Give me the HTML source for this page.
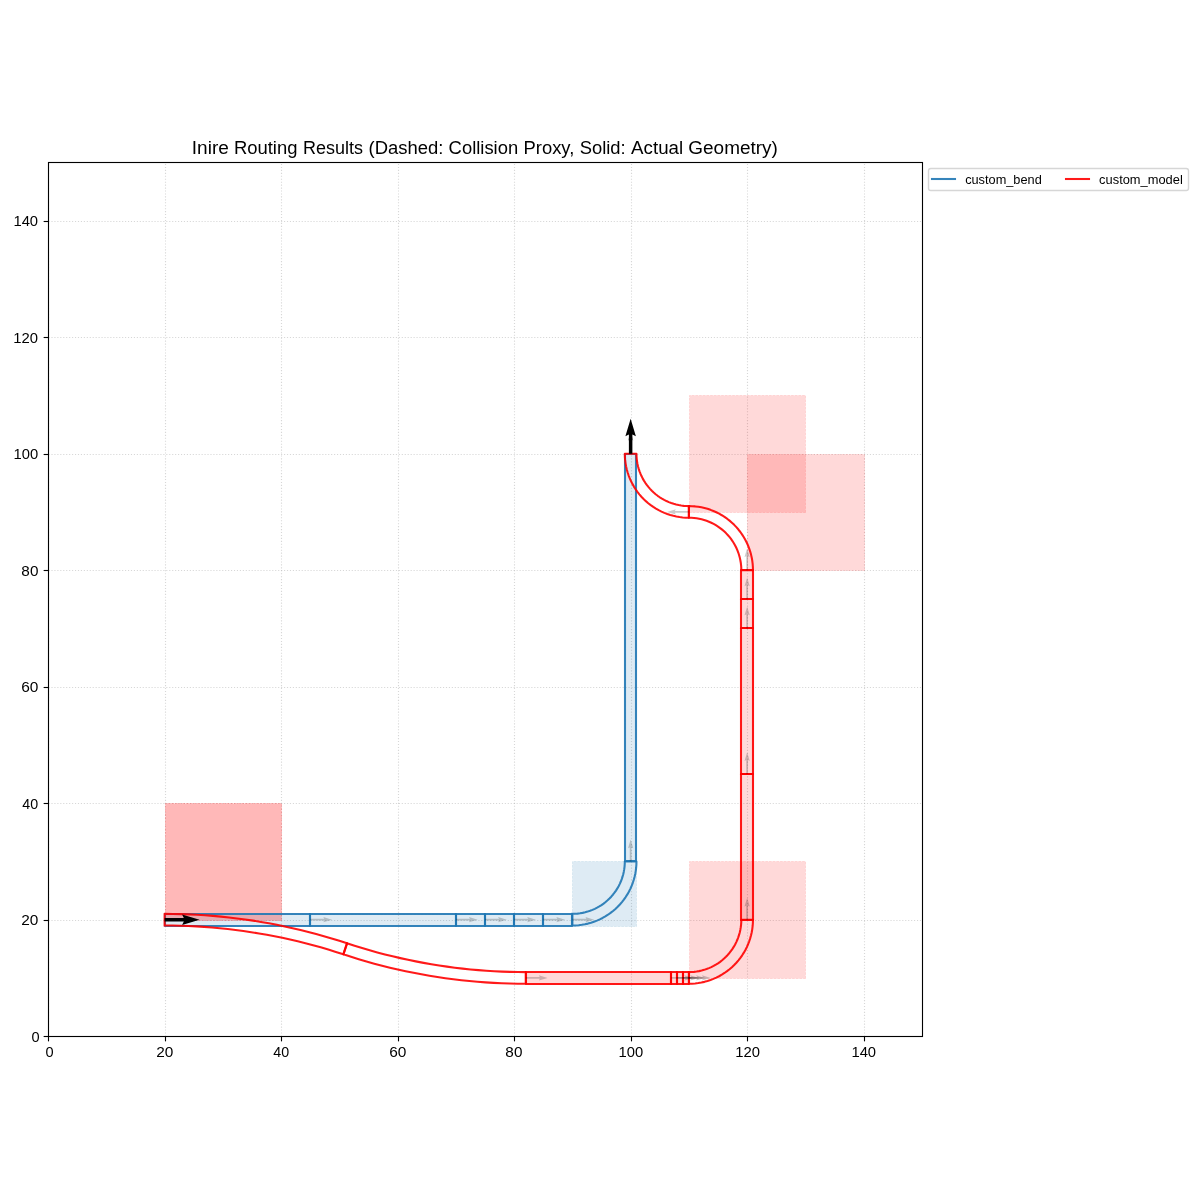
<!DOCTYPE html>
<html lang="en"><head><meta charset="utf-8"><title>Inire Routing Results</title>
<style>
html,body{margin:0;padding:0;background:#ffffff;}
body{width:1200px;height:1200px;overflow:hidden;}
svg{display:block;}
text{font-family:"Liberation Sans",sans-serif;fill:#000000;}
</style></head>
<body>
<svg width="1200" height="1200" viewBox="0 0 1200 1200">
<rect x="0" y="0" width="1200" height="1200" fill="#ffffff"/>
<defs><clipPath id="axclip"><rect x="48.1" y="162.4" width="873.81" height="873.81"/></clipPath></defs>
<g id="grid" clip-path="url(#axclip)" stroke="#b0b0b0" stroke-opacity="0.5" stroke-width="1.111" stroke-dasharray="1.111 1.833" fill="none">
<line x1="48.5" y1="1036.5" x2="48.5" y2="162.5"/>
<line x1="165.5" y1="1036.5" x2="165.5" y2="162.5"/>
<line x1="281.5" y1="1036.5" x2="281.5" y2="162.5"/>
<line x1="398.5" y1="1036.5" x2="398.5" y2="162.5"/>
<line x1="514.5" y1="1036.5" x2="514.5" y2="162.5"/>
<line x1="631.5" y1="1036.5" x2="631.5" y2="162.5"/>
<line x1="747.5" y1="1036.5" x2="747.5" y2="162.5"/>
<line x1="864.5" y1="1036.5" x2="864.5" y2="162.5"/>
<line x1="48.5" y1="1036.5" x2="922.5" y2="1036.5"/>
<line x1="48.5" y1="920.5" x2="922.5" y2="920.5"/>
<line x1="48.5" y1="803.5" x2="922.5" y2="803.5"/>
<line x1="48.5" y1="687.5" x2="922.5" y2="687.5"/>
<line x1="48.5" y1="570.5" x2="922.5" y2="570.5"/>
<line x1="48.5" y1="454.5" x2="922.5" y2="454.5"/>
<line x1="48.5" y1="337.5" x2="922.5" y2="337.5"/>
<line x1="48.5" y1="221.5" x2="922.5" y2="221.5"/>
</g>
<g id="ticks" stroke="#000000" stroke-width="1.111" fill="none">
<line x1="48.5" y1="1036.5" x2="48.5" y2="1041.36"/>
<line x1="165.5" y1="1036.5" x2="165.5" y2="1041.36"/>
<line x1="281.5" y1="1036.5" x2="281.5" y2="1041.36"/>
<line x1="398.5" y1="1036.5" x2="398.5" y2="1041.36"/>
<line x1="514.5" y1="1036.5" x2="514.5" y2="1041.36"/>
<line x1="631.5" y1="1036.5" x2="631.5" y2="1041.36"/>
<line x1="747.5" y1="1036.5" x2="747.5" y2="1041.36"/>
<line x1="864.5" y1="1036.5" x2="864.5" y2="1041.36"/>
<line x1="48.5" y1="1036.5" x2="43.64" y2="1036.5"/>
<line x1="48.5" y1="920.5" x2="43.64" y2="920.5"/>
<line x1="48.5" y1="803.5" x2="43.64" y2="803.5"/>
<line x1="48.5" y1="687.5" x2="43.64" y2="687.5"/>
<line x1="48.5" y1="570.5" x2="43.64" y2="570.5"/>
<line x1="48.5" y1="454.5" x2="43.64" y2="454.5"/>
<line x1="48.5" y1="337.5" x2="43.64" y2="337.5"/>
<line x1="48.5" y1="221.5" x2="43.64" y2="221.5"/>
</g>
<g id="proxy" clip-path="url(#axclip)" fill-opacity="0.15" stroke-opacity="0.15" stroke-width="0.694" stroke-dasharray="2.569 1.111" stroke-linejoin="miter">
<polygon fill="#1f77b4" stroke="#1f77b4" points="165.5,914.5 310.5,914.5 310.5,926.5 165.5,926.5"/>
<polygon fill="#1f77b4" stroke="#1f77b4" points="310.5,914.5 456.5,914.5 456.5,926.5 310.5,926.5"/>
<polygon fill="#1f77b4" stroke="#1f77b4" points="456.5,914.5 485.5,914.5 485.5,926.5 456.5,926.5"/>
<polygon fill="#1f77b4" stroke="#1f77b4" points="485.5,914.5 514.5,914.5 514.5,926.5 485.5,926.5"/>
<polygon fill="#1f77b4" stroke="#1f77b4" points="514.5,914.5 543.5,914.5 543.5,926.5 514.5,926.5"/>
<polygon fill="#1f77b4" stroke="#1f77b4" points="543.5,914.5 572.5,914.5 572.5,926.5 543.5,926.5"/>
<polygon fill="#1f77b4" stroke="#1f77b4" points="636.5,926.5 636.5,861.5 572.5,861.5 572.5,926.5"/>
<polygon fill="#1f77b4" stroke="#1f77b4" points="625.5,861.5 625.5,454.5 636.5,454.5 636.5,861.5"/>
<polygon fill="#ff0000" stroke="#ff0000" points="281.5,920.5 281.5,803.5 165.5,803.5 165.5,920.5"/>
<polygon fill="#ff0000" stroke="#ff0000" points="281.5,920.5 281.5,803.5 165.5,803.5 165.5,920.5"/>
<polygon fill="#ff0000" stroke="#ff0000" points="526.5,972.5 671.5,972.5 671.5,984.5 526.5,984.5"/>
<polygon fill="#ff0000" stroke="#ff0000" points="671.5,972.5 677.5,972.5 677.5,984.5 671.5,984.5"/>
<polygon fill="#ff0000" stroke="#ff0000" points="677.5,972.5 683.5,972.5 683.5,984.5 677.5,984.5"/>
<polygon fill="#ff0000" stroke="#ff0000" points="683.5,972.5 689.5,972.5 689.5,984.5 683.5,984.5"/>
<polygon fill="#ff0000" stroke="#ff0000" points="805.5,978.5 805.5,861.5 689.5,861.5 689.5,978.5"/>
<polygon fill="#ff0000" stroke="#ff0000" points="741.5,920.5 741.5,774.5 753.5,774.5 753.5,920.5"/>
<polygon fill="#ff0000" stroke="#ff0000" points="741.5,774.5 741.5,628.5 753.5,628.5 753.5,774.5"/>
<polygon fill="#ff0000" stroke="#ff0000" points="741.5,628.5 741.5,599.5 753.5,599.5 753.5,628.5"/>
<polygon fill="#ff0000" stroke="#ff0000" points="741.5,599.5 741.5,570.5 753.5,570.5 753.5,599.5"/>
<polygon fill="#ff0000" stroke="#ff0000" points="864.5,570.5 864.5,454.5 747.5,454.5 747.5,570.5"/>
<polygon fill="#ff0000" stroke="#ff0000" points="805.5,512.5 805.5,395.5 689.5,395.5 689.5,512.5"/>
</g>
<rect id="spines" x="48.5" y="162.5" width="874" height="874" fill="none" stroke="#000000" stroke-width="1.111" stroke-linejoin="miter"/>
<g id="geom" clip-path="url(#axclip)" fill="none" stroke-opacity="0.9" stroke-width="2.083" stroke-linejoin="round" stroke-linecap="square">
<polyline stroke="#1f77b4" points="165,914 310,914 310,926 165,926 165,914"/>
<polyline stroke="#1f77b4" points="310,914 456,914 456,926 310,926 310,914"/>
<polyline stroke="#1f77b4" points="456,914 485,914 485,926 456,926 456,914"/>
<polyline stroke="#1f77b4" points="485,914 514,914 514,926 485,926 485,914"/>
<polyline stroke="#1f77b4" points="514,914 543,914 543,926 514,926 514,914"/>
<polyline stroke="#1f77b4" points="543,914 572,914 572,926 543,926 543,914"/>
<polyline stroke="#1f77b4" points="572.38,913.88 574.96,913.81 577.52,913.62 580.08,913.31 582.61,912.87 585.12,912.31 587.6,911.62 590.05,910.81 592.45,909.89 594.8,908.84 597.1,907.69 599.34,906.42 601.51,905.04 603.61,903.56 605.64,901.98 607.59,900.3 609.46,898.52 611.23,896.66 612.91,894.71 614.49,892.68 615.98,890.58 617.35,888.4 618.62,886.16 619.78,883.86 620.82,881.51 621.75,879.11 622.55,876.67 623.24,874.19 623.8,871.68 624.24,869.14 624.56,866.59 624.75,864.02 624.81,861.45 636.46,861.45 636.39,864.59 636.15,867.73 635.77,870.85 635.23,873.95 634.54,877.02 633.7,880.05 632.72,883.04 631.58,885.97 630.31,888.85 628.9,891.66 627.35,894.39 625.66,897.05 623.85,899.62 621.92,902.1 619.86,904.48 617.69,906.76 615.42,908.93 613.03,910.98 610.56,912.92 607.98,914.73 605.33,916.41 602.59,917.96 599.78,919.38 596.91,920.65 593.97,921.78 590.98,922.77 587.95,923.61 584.88,924.3 581.79,924.83 578.66,925.22 575.53,925.45 572.38,925.53 572.38,913.88"/>
<polyline stroke="#1f77b4" points="625,861 625,454 636,454 636,861 625,861"/>
<polyline stroke="#ff0000" points="164.61,925.53 172.51,925.58 180.42,925.75 188.32,926.02 196.21,926.41 204.1,926.9 211.99,927.51 219.86,928.22 227.72,929.04 235.57,929.97 243.41,931.02 251.23,932.17 259.04,933.43 266.83,934.79 274.59,936.27 282.34,937.85 290.06,939.54 297.76,941.34 305.43,943.25 313.08,945.26 320.7,947.37 328.28,949.6 335.84,951.93 343.36,954.36 347.02,943.3 339.35,940.82 331.64,938.44 323.9,936.17 316.12,934.01 308.32,931.96 300.49,930.01 292.63,928.18 284.75,926.45 276.85,924.84 268.92,923.33 260.97,921.94 253.01,920.65 245.03,919.48 237.03,918.41 229.02,917.46 220.99,916.62 212.96,915.9 204.91,915.28 196.86,914.77 188.8,914.38 180.74,914.1 172.67,913.93 164.61,913.88 164.61,925.53"/>
<polyline stroke="#ff0000" points="347.02,943.3 354.55,945.73 362.1,948.06 369.69,950.28 377.31,952.4 384.95,954.41 392.62,956.32 400.32,958.12 408.05,959.81 415.79,961.39 423.56,962.87 431.35,964.23 439.15,965.49 446.97,966.64 454.81,967.68 462.66,968.62 470.52,969.44 478.4,970.15 486.28,970.76 494.17,971.25 502.07,971.64 509.97,971.91 517.87,972.08 525.78,972.13 525.78,983.78 517.71,983.73 509.65,983.56 501.58,983.28 493.52,982.88 485.47,982.38 477.43,981.76 469.39,981.04 461.37,980.2 453.36,979.24 445.36,978.18 437.38,977.01 429.41,975.72 421.46,974.33 413.54,972.82 405.63,971.21 397.75,969.48 389.9,967.65 382.07,965.7 374.26,963.65 366.49,961.49 358.75,959.22 351.04,956.84 343.36,954.36 347.02,943.3"/>
<polyline stroke="#ff0000" points="526,972 671,972 671,984 526,984 526,972"/>
<polyline stroke="#ff0000" points="671,972 677,972 677,984 671,984 671,972"/>
<polyline stroke="#ff0000" points="677,972 683,972 683,984 677,984 677,972"/>
<polyline stroke="#ff0000" points="683,972 689,972 689,984 683,984 683,972"/>
<polyline stroke="#ff0000" points="688.89,972.13 691.46,972.07 694.03,971.88 696.58,971.56 699.12,971.12 701.63,970.56 704.11,969.87 706.55,969.07 708.95,968.14 711.31,967.1 713.61,965.94 715.84,964.67 718.02,963.3 720.12,961.81 722.15,960.23 724.1,958.55 725.96,956.78 727.74,954.91 729.42,952.96 731,950.93 732.48,948.83 733.86,946.66 735.13,944.42 736.29,942.12 737.33,939.77 738.25,937.37 739.06,934.92 739.75,932.44 740.31,929.93 740.75,927.4 741.07,924.84 741.26,922.28 741.32,919.7 752.97,919.7 752.89,922.85 752.66,925.98 752.28,929.1 751.74,932.2 751.05,935.27 750.21,938.3 749.22,941.29 748.09,944.22 746.82,947.1 745.4,949.91 743.85,952.65 742.17,955.3 740.36,957.87 738.43,960.35 736.37,962.74 734.2,965.01 731.92,967.18 729.54,969.24 727.06,971.17 724.49,972.98 721.83,974.67 719.1,976.22 716.29,977.63 713.41,978.9 710.48,980.04 707.49,981.02 704.46,981.86 701.39,982.55 698.29,983.09 695.17,983.47 692.04,983.7 688.89,983.78 688.89,972.13"/>
<polyline stroke="#ff0000" points="741,920 741,774 753,774 753,920 741,920"/>
<polyline stroke="#ff0000" points="741,774 741,628 753,628 753,774 741,774"/>
<polyline stroke="#ff0000" points="741,628 741,599 753,599 753,628 741,628"/>
<polyline stroke="#ff0000" points="741,599 741,570 753,570 753,599 741,599"/>
<polyline stroke="#ff0000" points="741.32,570.18 741.26,567.61 741.07,565.04 740.75,562.49 740.31,559.95 739.75,557.44 739.06,554.96 738.25,552.52 737.33,550.12 736.29,547.76 735.13,545.46 733.86,543.22 732.48,541.05 731,538.95 729.42,536.92 727.74,534.97 725.96,533.11 724.1,531.33 722.15,529.65 720.12,528.07 718.02,526.59 715.84,525.21 713.61,523.94 711.31,522.78 708.95,521.74 706.55,520.81 704.11,520.01 701.63,519.32 699.12,518.76 696.58,518.32 694.03,518 691.46,517.81 688.89,517.75 688.89,506.1 692.04,506.18 695.17,506.41 698.29,506.79 701.39,507.33 704.46,508.02 707.49,508.86 710.48,509.85 713.41,510.98 716.29,512.25 719.1,513.67 721.83,515.22 724.49,516.9 727.06,518.71 729.54,520.64 731.92,522.7 734.2,524.87 736.37,527.15 738.43,529.53 740.36,532.01 742.17,534.58 743.85,537.24 745.4,539.97 746.82,542.78 748.09,545.66 749.22,548.59 750.21,551.58 751.05,554.61 751.74,557.68 752.28,560.78 752.66,563.9 752.89,567.03 752.97,570.18 741.32,570.18"/>
<polyline stroke="#ff0000" points="688.89,506.1 686.32,506.04 683.75,505.85 681.2,505.53 678.66,505.09 676.15,504.53 673.67,503.84 671.23,503.03 668.83,502.11 666.47,501.07 664.18,499.91 661.94,498.64 659.76,497.26 657.66,495.78 655.63,494.2 653.68,492.52 651.82,490.74 650.04,488.88 648.36,486.93 646.78,484.9 645.3,482.8 643.92,480.62 642.65,478.39 641.5,476.09 640.45,473.73 639.53,471.33 638.72,468.89 638.03,466.41 637.47,463.9 637.03,461.36 636.71,458.81 636.53,456.24 636.46,453.67 624.81,453.67 624.89,456.81 625.12,459.95 625.51,463.07 626.04,466.17 626.73,469.24 627.57,472.27 628.56,475.26 629.69,478.19 630.96,481.07 632.38,483.88 633.93,486.61 635.61,489.27 637.42,491.84 639.36,494.32 641.41,496.7 643.58,498.98 645.86,501.15 648.24,503.2 650.72,505.14 653.29,506.95 655.95,508.63 658.68,510.18 661.49,511.6 664.37,512.87 667.3,514 670.29,514.99 673.32,515.83 676.39,516.52 679.49,517.06 682.61,517.44 685.75,517.67 688.89,517.75 688.89,506.1"/>
</g>
<g id="ports" clip-path="url(#axclip)" fill="#000000" fill-opacity="0.2" stroke="none">
<polygon points="310.24,918.83 324.22,918.83 323.35,917.08 332.09,919.7 323.35,922.32 324.22,920.58 310.24,920.58"/>
<polygon points="455.88,918.83 469.86,918.83 468.98,917.08 477.72,919.7 468.98,922.32 469.86,920.58 455.88,920.58"/>
<polygon points="485,918.83 498.98,918.83 498.11,917.08 506.85,919.7 498.11,922.32 498.98,920.58 485,920.58"/>
<polygon points="514.13,918.83 528.11,918.83 527.24,917.08 535.97,919.7 527.24,922.32 528.11,920.58 514.13,920.58"/>
<polygon points="543.26,918.83 557.24,918.83 556.36,917.08 565.1,919.7 556.36,922.32 557.24,920.58 543.26,920.58"/>
<polygon points="572.38,918.83 586.36,918.83 585.49,917.08 594.23,919.7 585.49,922.32 586.36,920.58 572.38,920.58"/>
<polygon points="629.76,861.45 629.76,847.47 628.02,848.34 630.64,839.6 633.26,848.34 631.51,847.47 631.51,861.45"/>
<polygon points="629.76,453.67 629.76,439.69 628.02,440.56 630.64,431.83 633.26,440.56 631.51,439.69 631.51,453.67"/>
<polygon points="525.78,977.08 539.76,977.08 538.89,975.34 547.63,977.96 538.89,980.58 539.76,978.83 525.78,978.83"/>
<polygon points="671.41,977.08 685.4,977.08 684.52,975.34 693.26,977.96 684.52,980.58 685.4,978.83 671.41,978.83"/>
<polygon points="677.24,977.08 691.22,977.08 690.35,975.34 699.09,977.96 690.35,980.58 691.22,978.83 677.24,978.83"/>
<polygon points="683.07,977.08 697.05,977.08 696.17,975.34 704.91,977.96 696.17,980.58 697.05,978.83 683.07,978.83"/>
<polygon points="688.89,977.08 702.87,977.08 702,975.34 710.74,977.96 702,980.58 702.87,978.83 688.89,978.83"/>
<polygon points="746.27,919.7 746.27,905.72 744.52,906.6 747.15,897.86 749.77,906.6 748.02,905.72 748.02,919.7"/>
<polygon points="746.27,774.07 746.27,760.09 744.52,760.96 747.15,752.22 749.77,760.96 748.02,760.09 748.02,774.07"/>
<polygon points="746.27,628.43 746.27,614.45 744.52,615.33 747.15,606.59 749.77,615.33 748.02,614.45 748.02,628.43"/>
<polygon points="746.27,599.31 746.27,585.32 744.52,586.2 747.15,577.46 749.77,586.2 748.02,585.32 748.02,599.31"/>
<polygon points="746.27,570.18 746.27,556.2 744.52,557.07 747.15,548.33 749.77,557.07 748.02,556.2 748.02,570.18"/>
<polygon points="688.89,512.8 674.91,512.8 675.78,514.55 667.05,511.92 675.78,509.3 674.91,511.05 688.89,511.05"/>
<polygon points="629.76,453.67 629.76,439.69 628.02,440.56 630.64,431.83 633.26,440.56 631.51,439.69 631.51,453.67"/>
</g>
<rect id="legend" x="928.5" y="168.5" width="260" height="22" rx="2.31" ry="2.31" fill="#ffffff" fill-opacity="0.8" stroke="#cccccc" stroke-opacity="0.8" stroke-width="1.389"/>
<line x1="932" y1="179" x2="955" y2="179" stroke="#1f77b4" stroke-opacity="0.9" stroke-width="2.083" stroke-linecap="square"/>
<line x1="1066" y1="179" x2="1089" y2="179" stroke="#ff0000" stroke-opacity="0.9" stroke-width="2.083" stroke-linecap="square"/>
<g id="netports" clip-path="url(#axclip)" fill="#000000" stroke="none">
<polygon points="164.61,917.95 183.83,917.95 182.08,914.46 199.56,919.7 182.08,924.95 183.83,921.45 164.61,921.45"/>
<polygon points="628.89,453.67 628.89,434.45 625.39,436.19 630.64,418.72 635.88,436.19 632.38,434.45 632.38,453.67"/>
</g>
<g id="labels" style="filter:grayscale(1)">
<text id="title" font-size="18.3px"><tspan x="191.81" y="154" textLength="37.05" lengthAdjust="spacingAndGlyphs">Inire</tspan> <tspan x="233.91" y="154" textLength="63.51" lengthAdjust="spacingAndGlyphs">Routing</tspan> <tspan x="302.95" y="154" textLength="59.97" lengthAdjust="spacingAndGlyphs">Results</tspan> <tspan x="368.63" y="154" textLength="74.83" lengthAdjust="spacingAndGlyphs">(Dashed:</tspan> <tspan x="448.63" y="154" textLength="69.51" lengthAdjust="spacingAndGlyphs">Collision</tspan> <tspan x="523.54" y="154" textLength="50.73" lengthAdjust="spacingAndGlyphs">Proxy,</tspan> <tspan x="579.72" y="154" textLength="45.94" lengthAdjust="spacingAndGlyphs">Solid:</tspan> <tspan x="631.13" y="154" textLength="51.95" lengthAdjust="spacingAndGlyphs">Actual</tspan> <tspan x="688.3" y="154" textLength="89.56" lengthAdjust="spacingAndGlyphs">Geometry)</tspan></text>
<g id="xt" font-size="14.1px">
<text x="45.49" y="1057" textLength="8.12" lengthAdjust="spacingAndGlyphs">0</text>
<text x="156.21" y="1057" textLength="17.15" lengthAdjust="spacingAndGlyphs">20</text>
<text x="273.34" y="1057" textLength="15.87" lengthAdjust="spacingAndGlyphs">40</text>
<text x="389.26" y="1057" textLength="17.21" lengthAdjust="spacingAndGlyphs">60</text>
<text x="505.38" y="1057" textLength="17.02" lengthAdjust="spacingAndGlyphs">80</text>
<text x="618.46" y="1057" textLength="24.65" lengthAdjust="spacingAndGlyphs">100</text>
<text x="735.36" y="1057" textLength="24.73" lengthAdjust="spacingAndGlyphs">120</text>
<text x="851.42" y="1057" textLength="24.69" lengthAdjust="spacingAndGlyphs">140</text>
</g>
<g id="yt" font-size="14.1px">
<text x="31.49" y="1042" textLength="8.12" lengthAdjust="spacingAndGlyphs">0</text>
<text x="21.21" y="925" textLength="17.15" lengthAdjust="spacingAndGlyphs">20</text>
<text x="22.34" y="809" textLength="15.87" lengthAdjust="spacingAndGlyphs">40</text>
<text x="21.26" y="692" textLength="17.21" lengthAdjust="spacingAndGlyphs">60</text>
<text x="21.38" y="576" textLength="17.02" lengthAdjust="spacingAndGlyphs">80</text>
<text x="13.46" y="459" textLength="24.65" lengthAdjust="spacingAndGlyphs">100</text>
<text x="13.36" y="343" textLength="24.73" lengthAdjust="spacingAndGlyphs">120</text>
<text x="13.42" y="226" textLength="24.69" lengthAdjust="spacingAndGlyphs">140</text>
</g>
<g id="leg" font-size="12.9px">
<text x="965.15" y="184" textLength="76.6" lengthAdjust="spacingAndGlyphs">custom_bend</text>
<text x="1099.11" y="184" textLength="83.65" lengthAdjust="spacingAndGlyphs">custom_model</text>
</g>
</g>
</svg>
</body></html>
